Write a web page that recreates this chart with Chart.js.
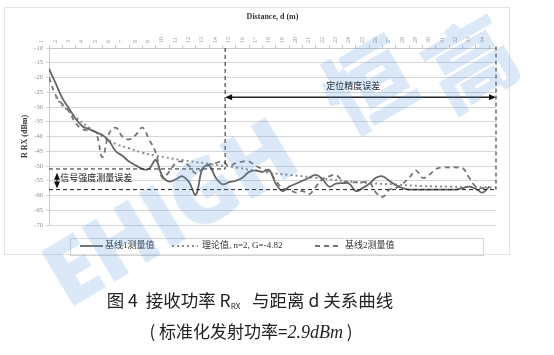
<!DOCTYPE html>
<html lang="zh-CN">
<head>
<meta charset="UTF-8" />
<title>接收功率 Rrx 与距离 d 关系曲线</title>
<script src="https://cdn.jsdelivr.net/npm/chart.js"></script>
<style>
  body { margin: 0; width: 554px; height: 355px; background: #fff; position: relative; overflow: hidden; }
  #frame { position: absolute; left: 4px; top: 7px; width: 504px; height: 246px; border: 1px solid #e4e4e4; }
  #wrap { position: absolute; left: 0; top: 0; width: 554px; height: 270px; }
  #legendBox { position: absolute; left: 70px; top: 238px; width: 412px; height: 16px; border: 1px solid #d4d4d4; }
  .cap { position: absolute; left: 0; text-align: center; color: #222;
         font-family: "Noto Sans CJK SC", sans-serif; font-size: 17px; }
  .cap sub { font-size: 8px; vertical-align: -2px; }
  .cap i { font-family: "Liberation Serif", serif; font-size: 18px; }
  .wm { position: absolute; font-family: "Open Sans", "Noto Sans CJK SC", sans-serif; font-weight: 800;
        line-height: 1; color: rgba(90, 150, 225, 0.22); pointer-events: none; white-space: nowrap; }
</style>
</head>
<body>
  <div id="frame"></div>
  <div id="legendBox"></div>
  <div id="wrap"><canvas id="grafico" width="554" height="270"></canvas></div>
  <div class="wm" style="left:168px; top:210px; font-size:88px; letter-spacing:-1px; transform: translate(-50%,-50%) rotate(-31deg);">EHIGH</div>
  <div class="wm" style="left:367px; top:85px; font-size:88px; transform: translate(-50%,-50%) rotate(-30deg);">恒</div>
  <div class="wm" style="left:470px; top:62px; font-size:88px; transform: translate(-50%,-50%) rotate(-30deg);">高</div>
  <div class="cap" style="top:287px; width:500px; font-size:17.5px;">图 4&nbsp; 接收功率 R<sub>RX</sub>&nbsp;&nbsp; 与距离 d 关系曲线</div>
  <div class="cap" style="top:318px; width:502px;">( 标准化发射功率=<i>2.9dBm</i> )</div>
<script>
// rótulos do eixo de distância (topo)
const distLabels = ['1','2','3','4','5','6','7','8','9','10','11','12','13','14','15','16','17',
  '18','19','20','21','22','23','24','25','26','27','28','29','30','31','32','33','34'];

// posições (em índice de rótulo) das medições
const dist = [0,0.5,1,1.5,2,2.5,3,3.5,4,4.5,5,5.5,6,6.5,7,7.5,8,8.5,9,9.5,10,10.5,11,11.5,12,12.5,
  13,13.5,14,14.5,15,15.5,16,16.5,17,17.5,18,18.5,19,19.5,20,20.5,21,21.5,22,22.5,23,23.5,24,24.5,
  25,25.5,26,26.5,27,27.5,28,28.5,29,29.5,30,30.5,31,31.5,32,32.5,33];

// 基线1测量值
const base1 = [-17,-22,-27,-30.5,-34,-36.5,-37.5,-38.5,-39.5,-41.5,-45,-46.5,-48.5,-49.8,-51,-51,
  -48,-53.5,-55.3,-54.5,-53.5,-55.5,-59.8,-51,-49.8,-54,-56.2,-55.5,-55,-54,-52,-51.5,-52,-51.3,
  -56,-58.5,-57,-56,-55,-54,-53,-54.5,-57,-56,-55.8,-56,-58.5,-57.5,-56,-54,-53.5,-55,-56.5,-57.5,
  -58,-58,-58,-58,-58,-58,-58,-58,-57.5,-57,-57.8,-59,-57];

// 基线2测量值
const base2 = [-20,-26,-29,-31.5,-35.5,-37.5,-38,-38.5,-47,-39,-37,-40,-41,-39.5,-37,-41,-45.5,-54,
  -52,-49,-48.5,-50,-52.5,-51,-49.5,-49,-48.5,-50,-49,-48.5,-48.5,-50,-51,-52,-55,-57.5,-58,-59,
  -58.5,-59.5,-57,-54.5,-53.5,-53,-55,-55.5,-55.5,-55.5,-55.5,-59,-60.5,-58,-57.5,-56,-54,-51.5,
  -54,-53,-51,-50.5,-50.5,-50.5,-50.7,-54,-57,-57.5,-57];

// 理论值 n=2, G=-4.82
const theoDist = [0.5,1,2,3,4,5,6,7,8,10,12,14,16,18,20,22,24,26,28,30,33.5];
const theoRx = [-26.5,-29.5,-33.5,-37,-40,-42.5,-44,-45.5,-46.5,-48,-49.3,-50.5,-52,-53,-54,-55,
  -55.8,-56.3,-56.8,-57,-57.3];

const yTicks = [-10,-15,-20,-25,-30,-35,-40,-45,-50,-55,-60,-65,-70];

const serif = '"Liberation Serif", "Noto Sans CJK SC", serif';
const cjk = '"Noto Sans CJK SC", sans-serif';

function pts(xs, ys) { return xs.map((v, i) => ({ x: v, y: ys[i] })); }

// linhas tracejadas, setas, textos e legenda
const anotacoes = {
  id: 'anotacoes',
  afterDatasetsDraw(chart) {
    const { ctx, scales: { x, y } } = chart;
    const px = v => x.getPixelForValue(v);
    const py = v => y.getPixelForValue(v);
    const seg = (x1, y1, x2, y2) => { ctx.beginPath(); ctx.moveTo(x1, y1); ctx.lineTo(x2, y2); ctx.stroke(); };
    const head = (xt, yt, dx, dy) => {
      const L = 7, W = 3;
      ctx.beginPath();
      ctx.moveTo(xt, yt);
      ctx.lineTo(xt - dx * L - dy * W, yt - dy * L + dx * W);
      ctx.lineTo(xt - dx * L + dy * W, yt - dy * L - dx * W);
      ctx.closePath();
      ctx.fill();
    };
    ctx.save();
    ctx.strokeStyle = '#222';
    ctx.fillStyle = '#111';
    ctx.lineWidth = 1;
    ctx.setLineDash([4, 3]);
    seg(px(13.2), py(-10), px(13.2), py(-51));
    seg(px(0), py(-51), px(13.2), py(-51));
    seg(px(0), py(-58), px(33.5), py(-58));
    seg(px(33.5), py(-9.5), px(33.5), py(-58));
    ctx.setLineDash([]);
    ctx.lineWidth = 1.5;
    seg(px(13.2) + 4, py(-26.7), px(33.5) - 4, py(-26.7));
    head(px(13.2), py(-26.7), -1, 0);
    head(px(33.5), py(-26.7), 1, 0);
    ctx.lineWidth = 1.2;
    seg(px(0.6), py(-52.3) + 4, px(0.6), py(-57.6) - 4);
    head(px(0.6), py(-52.3), 0, -1);
    head(px(0.6), py(-57.6), 0, 1);
    ctx.font = '9px ' + cjk;
    ctx.textBaseline = 'middle';
    ctx.textAlign = 'left';
    ctx.fillText('信号强度测量误差', px(0.85), py(-53.9));
    ctx.textAlign = 'center';
    ctx.fillText('定位精度误差', px(22.8), py(-22.7));

    // legenda (amostra de linha + texto)
    const itens = [[80, 23, 105], [172, 26, 202], [315, 27, 345]];
    const ly = 246;
    ctx.textAlign = 'left';
    ctx.font = '9px ' + serif;
    chart.data.datasets.forEach((ds, i) => {
      const [x0, w, tx] = itens[i];
      ctx.strokeStyle = ds.borderColor;
      ctx.lineWidth = ds.borderWidth;
      ctx.setLineDash(ds.borderDash || []);
      seg(x0, ly, x0 + w, ly);
      ctx.fillStyle = '#333';
      ctx.fillText(ds.label, tx, ly);
    });
    ctx.restore();
  }
};

const ctx = document.getElementById('grafico').getContext('2d');
new Chart(ctx, {
  type: 'line',
  data: {
    datasets: [
      {
        label: '基线1测量值',
        data: pts(dist, base1),
        borderColor: '#666666',
        borderWidth: 1.8,
        tension: 0.4,
        pointRadius: 0
      },
      {
        label: '理论值, n=2, G=-4.82',
        data: pts(theoDist, theoRx),
        borderColor: '#8c8c8c',
        borderWidth: 2,
        borderDash: [2, 3],
        tension: 0.4,
        pointRadius: 0
      },
      {
        label: '基线2测量值',
        data: pts(dist, base2),
        borderColor: '#747474',
        borderWidth: 1.8,
        borderDash: [5, 4],
        tension: 0.4,
        pointRadius: 0
      }
    ]
  },
  options: {
    responsive: false,
    animation: false,
    layout: { padding: { left: 20, right: 58, top: 8, bottom: 45 } },
    plugins: {
      tooltip: { enabled: false },
      legend: { display: false }
    },
    scales: {
      x: {
        type: 'linear',
        position: 'top',
        min: 0,
        max: 33.5,
        afterFit: s => { s.height = 40; },
        ticks: {
          stepSize: 1,
          includeBounds: false,
          autoSkip: false,
          minRotation: 90,
          maxRotation: 90,
          color: '#999',
          font: { size: 6, family: serif },
          padding: 2,
          callback: v => distLabels[v]
        },
        grid: { drawOnChartArea: false, tickLength: 3, color: '#c8c8c8' },
        border: { color: '#c8c8c8' },
        title: {
          display: true,
          text: 'Distance, d (m)',
          color: '#333',
          font: { size: 8, weight: 'bold', family: serif },
          padding: { top: 4, bottom: 2 }
        }
      },
      y: {
        min: -70,
        max: -10,
        afterFit: s => { s.width = 29; },
        afterBuildTicks: s => { s.ticks = yTicks.map(v => ({ value: v })); },
        ticks: {
          color: '#8a8a8a',
          font: { size: 6.5, family: serif },
          padding: 3
        },
        grid: { color: '#d6d6d6', borderDash: [2, 2], tickLength: 3 },
        border: { color: '#c8c8c8' },
        title: {
          display: true,
          text: 'R RX (dBm)',
          color: '#333',
          font: { size: 8, weight: 'bold', family: serif },
          padding: { top: 0, bottom: 2 }
        }
      }
    }
  },
  plugins: [anotacoes]
});
</script>
</body>
</html>
